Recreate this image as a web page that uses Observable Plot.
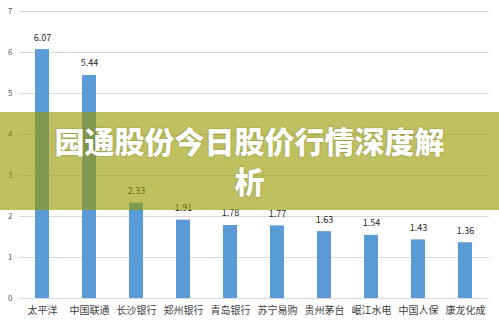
<!DOCTYPE html>
<html>
<head>
<meta charset="utf-8">
<script src="https://cdn.jsdelivr.net/npm/d3@7"></script>
<script src="https://cdn.jsdelivr.net/npm/@observablehq/plot@0.6"></script>
<style>
  html, body { margin: 0; padding: 0; background: #fff; }
  #wrap { position: relative; width: 499px; height: 323px; overflow: hidden; }
  #banner {
    position: absolute; left: 0; top: 112px; width: 499px; height: 98px;
    background: rgba(152, 155, 0, 0.62);
    display: flex; align-items: center; justify-content: center;
  }
  #banner div {
    color: #fff; font-family: "Noto Sans CJK SC", sans-serif; font-weight: 900;
    font-size: 30px; line-height: 40px; text-align: center;
    text-shadow: 0 0 2px rgba(60,60,0,0.45);
    margin-top: -3px;
  }
</style>
</head>
<body>
<div id="wrap">
  <div id="chart"></div>
  <div id="banner"><div>园通股份今日股价行情深度解<br>析</div></div>
</div>
<script>
const names = ["太平洋", "中国联通", "长沙银行", "郑州银行", "青岛银行", "苏宁易购", "贵州茅台", "岷江水电", "中国人保", "康龙化成"];
const prices = [6.07, 5.44, 2.33, 1.91, 1.78, 1.77, 1.63, 1.54, 1.43, 1.36];
const yTicks = [0, 1, 2, 3, 4, 5, 6, 7];

const data = names.map((n, i) => ({name: n, value: prices[i]}));

const chart = Plot.plot({
  width: 499,
  height: 323,
  marginTop: 11,
  marginBottom: 25,
  marginLeft: 19,
  marginRight: 10,
  style: {fontFamily: "'Noto Sans CJK SC', sans-serif", background: "#fff"},
  x: {domain: names, paddingInner: 0.7, paddingOuter: 0.35, label: null},
  y: {domain: [0, 7], label: null},
  marks: [
    Plot.ruleY(yTicks, {stroke: "#d9d9d9", strokeWidth: 1}),
    Plot.barY(data, {x: "name", y: "value", fill: "#5b9bd5"}),
    Plot.text(data, {x: "name", y: "value", text: d => d.value.toFixed(2), dy: -12, fontSize: 9, fill: "#262626"}),
    Plot.axisY(yTicks, {tickSize: 0, tickPadding: 7, fontSize: 8, color: "#595959", tickFormat: d3.format("d"), label: null}),
    Plot.axisX({tickSize: 0, tickPadding: 8, fontSize: 10, color: "#404040", label: null})
  ]
});
document.getElementById("chart").appendChild(chart);
</script>
</body>
</html>
